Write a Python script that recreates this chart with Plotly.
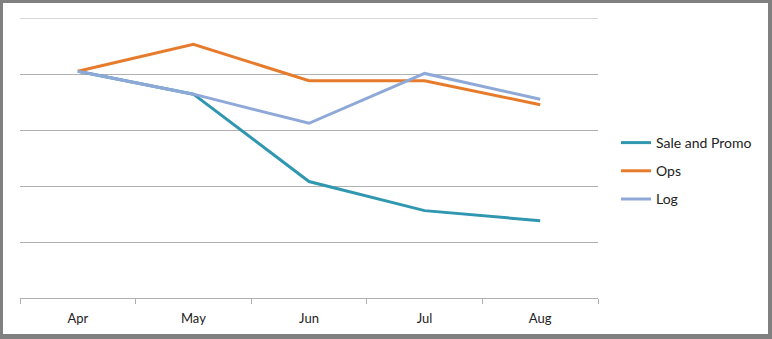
import plotly.graph_objects as go

months = ["Apr", "May", "Jun", "Jul", "Aug"]
sale_promo = [4.05, 3.64, 2.08, 1.56, 1.38]
ops = [4.05, 4.53, 3.88, 3.88, 3.45]
log = [4.05, 3.64, 3.12, 4.01, 3.55]

series_names = ["Sale and Promo", "Ops", "Log"]
colors = ["#2f97b0", "#e77b2c", "#8ea9d7"]

W, H = 772, 339
L, R, T, B = 20, 598, 18, 298

def px(x):
    return (x - L) / (R - L)

def py(y):
    return (B - y) / (B - T)

fig = go.Figure()
for name, vals, c in zip(series_names, [sale_promo, ops, log], colors):
    fig.add_trace(go.Scatter(x=months, y=vals, mode="lines", name=name,
                             legendgroup=name,
                             line=dict(color=c, width=3)))

grid = "#b0b0b0"
border = "#808080"
shapes = [
    dict(type="line", xref="paper", yref="y", x0=0, x1=1, y0=5, y1=5,
         line=dict(color=grid, width=1), layer="below"),
    dict(type="rect", xref="paper", yref="paper", x0=px(0), x1=px(3), y0=py(0), y1=py(H), fillcolor=border, line_width=0, layer="above"),
    dict(type="rect", xref="paper", yref="paper", x0=px(0), x1=px(W), y0=py(0), y1=py(3), fillcolor=border, line_width=0, layer="above"),
    dict(type="rect", xref="paper", yref="paper", x0=px(768), x1=px(W), y0=py(0), y1=py(H), fillcolor=border, line_width=0, layer="above"),
    dict(type="rect", xref="paper", yref="paper", x0=px(0), x1=px(W), y0=py(334), y1=py(H), fillcolor=border, line_width=0, layer="above"),
]

fig.update_layout(
    width=W, height=H,
    margin=dict(l=L, r=W - R, t=T, b=H - B),
    paper_bgcolor="white", plot_bgcolor="white",
    font=dict(family="Lato, 'Noto Sans', sans-serif", size=13, color="#222222"),
    showlegend=True,
    legend=dict(x=px(616), xanchor="left", y=py(127), yanchor="top",
                bgcolor="rgba(0,0,0,0)", font=dict(size=14), tracegroupgap=7),
    shapes=shapes,
    xaxis=dict(type="category", range=[-0.5, 4.5], showgrid=False, showline=True,
               linecolor=grid, linewidth=1, ticks="outside", tickson="boundaries",
               ticklen=5, tickcolor=grid, tickwidth=1, zeroline=False,
               ticklabelstandoff=8, fixedrange=True),
    yaxis=dict(range=[0, 5], dtick=1, showgrid=True, gridcolor=grid, gridwidth=1,
               showticklabels=False, zeroline=False, showline=False, ticks="",
               fixedrange=True),
)

fig.write_html("out.html")
